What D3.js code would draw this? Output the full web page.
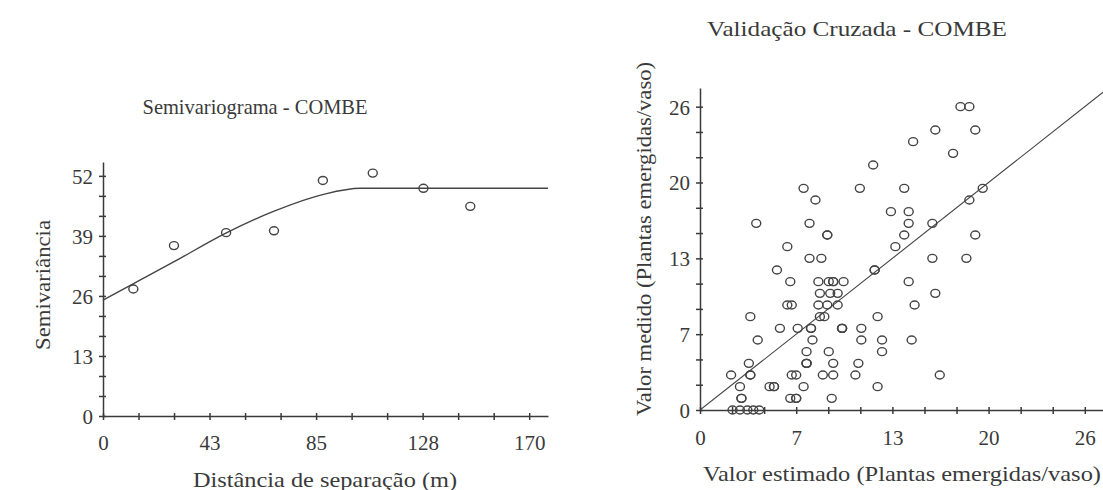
<!DOCTYPE html>
<html>
  <head>
    <meta charset="utf-8" />
    <title>Semivariograma e Validação Cruzada - COMBE</title>
    <style>
      body {
        margin: 0;
        background: #fff;
      }
      svg text {
        font-family: "Liberation Serif", "DejaVu Serif", serif;
        fill: #3a3a3a;
      }
      .axis path,
      .axis line {
        stroke: #3a3a3a;
        stroke-width: 1.5px;
      }
      .tick text {
        font-size: 21px;
      }
      .mark {
        fill: none;
        stroke: #444;
        stroke-width: 1.4px;
      }
      .model {
        fill: none;
        stroke: #444;
        stroke-width: 1.4px;
      }
    </style>
  </head>
  <body>
    <svg width="1103" height="490"></svg>

    <script src="https://d3js.org/d3.v7.min.js"></script>
    <script>
      // Semivariograma experimental
      const semiDist = [12.1, 28.3, 49.1, 68.2, 87.7, 107.6, 127.8, 146.5];
      const semiGamma = [27.5, 36.9, 39.7, 40.1, 51.0, 52.6, 49.3, 45.4];

      // modelo ajustado
      const modelDist = [0, 12, 28, 49, 68, 88, 102.6, 177.5];
      const modelGamma = [25.1, 28.6, 33.3, 39.6, 44.3, 48.0, 49.3, 49.3];

      // ticks do semivariograma
      const semiXTicks = [0, 42.5, 85, 127.5, 170];
      const semiXLabels = ["0", "43", "85", "128", "170"];
      const semiYTicks = [0, 13, 26, 39, 52];
      const semiYLabels = ["0", "13", "26", "39", "52"];

      // Validação cruzada: valor estimado x valor medido
      const estimado = [
        17.6, 18.2,
        15.9, 18.6,
        14.4,
        17.1,
        11.7,
        7.0, 10.8, 13.8, 19.1,
        7.8, 18.2,
        12.9, 14.1,
        3.8, 7.4, 14.1, 15.7,
        8.6, 8.6, 13.8, 18.6,
        5.9, 13.2,
        7.4, 8.2, 15.7, 18.0,
        5.2, 11.8, 11.8,
        6.1, 8.0, 8.7, 9.0, 9.0, 9.7, 14.1,
        8.1, 8.8, 9.3, 15.9,
        5.9, 6.2, 8.0, 8.6, 9.3, 14.5,
        3.4, 8.1, 8.4, 12.0,
        5.4, 6.6, 7.5, 7.5, 9.6, 9.6, 9.6, 10.9,
        3.9, 7.6, 10.9, 12.3, 14.3,
        7.2, 8.7, 12.3,
        3.3, 7.2, 7.2, 7.2, 9.0, 10.7,
        2.1, 3.4, 3.4, 6.2, 6.5, 8.3, 9.0, 10.5, 16.2,
        2.7, 4.7, 5.0, 5.0, 7.0, 12.0,
        2.8, 2.8, 6.1, 6.5, 6.5, 8.9,
        2.2, 2.7, 3.2, 3.6, 4.0,
      ];
      const medido = [
        26, 26,
        24, 24,
        23,
        22,
        21,
        19, 19, 19, 19,
        18, 18,
        17, 17,
        16, 16, 16, 16,
        15, 15, 15, 15,
        14, 14,
        13, 13, 13, 13,
        12, 12, 12,
        11, 11, 11, 11, 11, 11, 11,
        10, 10, 10, 10,
        9, 9, 9, 9, 9, 9,
        8, 8, 8, 8,
        7, 7, 7, 7, 7, 7, 7, 7,
        6, 6, 6, 6, 6,
        5, 5, 5,
        4, 4, 4, 4, 4, 4,
        3, 3, 3, 3, 3, 3, 3, 3, 3,
        2, 2, 2, 2, 2, 2,
        1, 1, 1, 1, 1, 1,
        0, 0, 0, 0, 0,
      ];

      // linha 1:1
      const identity = [0, 27.3];

      // ticks da validação
      const valTicks = [0, 6.5, 13, 19.5, 26];
      const valLabels = ["0", "7", "13", "20", "26"];

      const svg = d3.select("svg");

      // eixo com ticks que cruzam a linha
      function drawAxis(g, axisFn, scale, majors, labels, minorStep, max, vertical) {
        const minors = d3.range(0, max + 1e-9, minorStep).filter(
          (v) => !majors.some((m) => Math.abs(m - v) < 1e-6)
        );
        const minorAxis = axisFn(scale).tickValues(minors).tickFormat("").tickSizeOuter(0);
        g.append("g").attr("class", "axis").call(minorAxis).select(".domain").remove();
        const majorAxis = axisFn(scale)
          .tickValues(majors)
          .tickFormat((d, i) => labels[i])
          .tickSizeOuter(0);
        const ag = g.append("g").attr("class", "axis").call(majorAxis);
        g.selectAll(".tick line").each(function () {
          if (vertical) d3.select(this).attr("x1", -4).attr("x2", 3);
          else d3.select(this).attr("y1", -3).attr("y2", 4);
        });
        return ag;
      }

      function label(g, x, y, size, width, txt, rotate) {
        return g
          .append("text")
          .attr("transform", `translate(${x},${y})` + (rotate ? " rotate(-90)" : ""))
          .attr("text-anchor", "middle")
          .attr("textLength", width)
          .attr("lengthAdjust", "spacingAndGlyphs")
          .style("font-size", size + "px")
          .text(txt);
      }

      // ----- Semivariograma -----
      const xL = d3.scaleLinear().domain([0, 177.5]).range([103, 548]);
      const yL = d3.scaleLinear().domain([0, 55]).range([416, 162]);

      const gL = svg.append("g");

      const xAxisL = drawAxis(
        gL.append("g").attr("transform", `translate(0,${yL(0)})`),
        d3.axisBottom, xL, semiXTicks, semiXLabels, 42.5 / 3, 177.5, false
      );
      xAxisL.selectAll("text").attr("dy", null).attr("y", 34);

      const yAxisL = drawAxis(
        gL.append("g").attr("transform", `translate(${xL(0)},0)`),
        d3.axisLeft, yL, semiYTicks, semiYLabels, 13 / 3, 55, true
      );
      yAxisL.selectAll("text").attr("x", -10).attr("dy", "0.35em");

      const modelLine = d3
        .line()
        .x((d) => xL(d[0]))
        .y((d) => yL(d[1]))
        .curve(d3.curveMonotoneX);
      gL.append("path")
        .attr("class", "model")
        .attr("d", modelLine(d3.zip(modelDist, modelGamma)));

      gL.selectAll(".semi")
        .data(d3.zip(semiDist, semiGamma))
        .join("ellipse")
        .attr("class", "mark")
        .attr("cx", (d) => xL(d[0]))
        .attr("cy", (d) => yL(d[1]))
        .attr("rx", 4.5)
        .attr("ry", 4);

      label(gL, 255, 114, 21, 225, "Semivariograma - COMBE");
      label(gL, 325, 487, 21, 264, "Distância de separação (m)");
      label(gL, 50, 285, 21, 130, "Semivariância", true);

      // ----- Validação cruzada -----
      const xR = d3.scaleLinear().domain([0, 27.23]).range([700, 1103]);
      const yR = d3.scaleLinear().domain([0, 27.6]).range([410, 88]);

      const gR = svg.append("g");

      gR.append("clipPath")
        .attr("id", "clipR")
        .append("rect")
        .attr("x", xR(0))
        .attr("y", yR(27.6))
        .attr("width", xR(27.23) - xR(0))
        .attr("height", yR(0) - yR(27.6));

      gR.append("path")
        .attr("class", "model")
        .attr("clip-path", "url(#clipR)")
        .style("stroke-width", "1.1px")
        .attr(
          "d",
          d3.line().x((d) => xR(d)).y((d) => yR(d))(identity)
        );

      const xAxisR = drawAxis(
        gR.append("g").attr("transform", `translate(0,${yR(0)})`),
        d3.axisBottom, xR, valTicks, valLabels, 6.5 / 3, 27.23, false
      );
      xAxisR.selectAll("text").attr("dy", null).attr("y", 35);

      const yAxisR = drawAxis(
        gR.append("g").attr("transform", `translate(${xR(0)},0)`),
        d3.axisLeft, yR, valTicks, valLabels, 6.5 / 3, 27.6, true
      );
      yAxisR.selectAll("text").attr("x", -10).attr("dy", "0.35em");

      gR.selectAll(".val")
        .data(d3.zip(estimado, medido))
        .join("ellipse")
        .attr("class", "mark")
        .attr("cx", (d) => xR(d[0]))
        .attr("cy", (d) => yR(d[1]))
        .attr("rx", 4.5)
        .attr("ry", 4);

      label(gR, 857, 36, 21, 300, "Validação Cruzada - COMBE");
      label(gR, 902, 481, 22, 398, "Valor estimado (Plantas emergidas/vaso)");
      label(gR, 651, 239, 22, 354, "Valor medido (Plantas emergidas/vaso)", true);
    </script>
  </body>
</html>
